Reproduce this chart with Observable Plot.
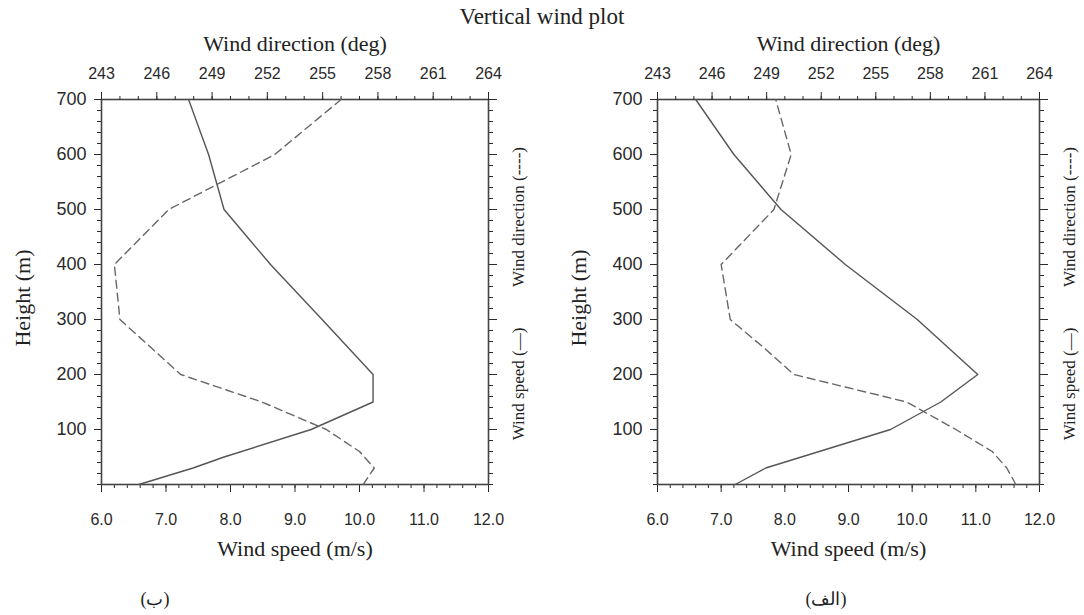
<!DOCTYPE html>
<html>
<head>
<meta charset="utf-8">
<script src="https://cdn.jsdelivr.net/npm/d3@7"></script>
<script src="https://cdn.jsdelivr.net/npm/@observablehq/plot@0.6"></script>
<style>
  body { margin: 0; background: #fff; }
  #page { position: relative; width: 1084px; height: 615px; overflow: hidden; background: #fff; }
  .panel { position: absolute; top: 0; }
  .panel svg { position: absolute; left: 0; top: 0; }
  .title { position: absolute; left: 0; width: 1084px; top: 3px; text-align: center; line-height: 28px;
           font-family: "Liberation Serif", serif; font-size: 23px; color: #222; }
  .caption { position: absolute; top: 588px; width: 80px; text-align: center; line-height: 22px;
             font-family: "Liberation Serif", "DejaVu Serif", serif; font-size: 18px; color: #222; }
</style>
</head>
<body>
<div id="page">
  <div class="title">Vertical wind plot</div>
</div>
<script>
// Axis ticks
const heightTicks = [100, 200, 300, 400, 500, 600, 700];
const speedTicks = [6, 7, 8, 9, 10, 11, 12];
const directionTicks = [243, 246, 249, 252, 255, 258, 261, 264];

// Panel (ب): wind speed (m/s) and wind direction (deg) by height (m)
const leftSpeedHeights = [0, 30, 50, 100, 150, 200, 300, 400, 500, 600, 700];
const leftSpeed = [6.58, 7.42, 7.90, 9.25, 10.21, 10.21, 9.42, 8.62, 7.90, 7.66, 7.35];
const leftDirHeights = [0, 30, 60, 100, 150, 200, 300, 400, 500, 600, 700];
const leftDir = [257.2, 257.8, 257.0, 255.2, 251.7, 247.3, 244.0, 243.7, 246.65, 252.4, 256.0];

// Panel (الف)
const rightSpeedHeights = [0, 30, 100, 150, 200, 300, 400, 500, 600, 700];
const rightSpeed = [7.22, 7.70, 9.66, 10.45, 11.03, 10.08, 8.95, 7.94, 7.20, 6.60];
const rightDirHeights = [0, 30, 60, 100, 150, 200, 250, 300, 400, 500, 600, 700];
const rightDir = [262.7, 262.2, 261.4, 259.4, 256.7, 250.5, 248.8, 247.0, 246.5, 249.4, 250.35, 249.5];

const SANS = "Liberation Sans, Arial, sans-serif";
const NARROW = "Liberation Sans Narrow, Liberation Sans, sans-serif";
const SERIF = "'Liberation Serif', 'Times New Roman', serif";
const SVG_H = 560, M_TOP = 99, M_BOTTOM = 76, M_LEFT = 101;

function zip(hs, vs) { return hs.map((h, i) => ({h, v: vs[i]})); }

// Serif titles drawn as text marks
function label(text, opts) {
  return Plot.text([text], {textAnchor: "middle", lineAnchor: "middle", fill: "#222",
                            fontFamily: SERIF, fontSize: 22, ...opts});
}

// Make sure standalone text marks use the serif face
function serifLabels(svg) {
  d3.select(svg).selectAll('g[aria-label="text"] text').style("font-family", SERIF);
  return svg;
}

// Speed layer: frame, height axes, bottom speed axis and the solid profile
function speedLayer(width, frameW, heights, speed) {
  const minorH = d3.range(0, 701, 20);
  return serifLabels(Plot.plot({
    width, height: SVG_H,
    marginLeft: M_LEFT, marginRight: width - M_LEFT - frameW, marginTop: M_TOP, marginBottom: M_BOTTOM,
    x: {domain: [6, 12]},
    y: {domain: [0, 700]},
    style: {background: "transparent", color: "#2a2a2a", fontFamily: SANS, fontSize: "15px", overflow: "visible"},
    marks: [
      Plot.axisY(minorH, {anchor: "left", tickSize: 4, tickFormat: () => "", label: null}),
      Plot.axisY(heightTicks, {anchor: "left", tickSize: 7, tickPadding: 8, fontSize: 18, fontFamily: SANS, label: null}),
      Plot.axisY(minorH, {anchor: "right", tickSize: 4, tickFormat: () => "", label: null}),
      Plot.axisY(heightTicks, {anchor: "right", tickSize: 8, tickFormat: () => "", label: null}),
      Plot.axisX(d3.range(6, 12.001, 0.2), {anchor: "bottom", tickSize: 4, tickFormat: () => "", label: null}),
      Plot.axisX(speedTicks, {anchor: "bottom", tickSize: 8, tickPadding: 21, fontSize: 16, fontFamily: NARROW,
                              tickFormat: d => d.toFixed(1), label: null}),
      Plot.frame({stroke: "#444", strokeWidth: 1.6}),
      Plot.line(zip(heights, speed), {x: "v", y: "h", stroke: "#555", strokeWidth: 1.4}),
      label("Height (m)", {frameAnchor: "left", dx: -79, dy: 6, rotate: -90}),
      label("Wind speed (m/s)", {frameAnchor: "bottom", dy: 64}),
      label("Wind speed (\u2014)", {frameAnchor: "right", dx: 30, dy: 92, rotate: -90, fontSize: 17}),
      label("Wind direction (----)", {frameAnchor: "right", dx: 30, dy: -75, rotate: -90, fontSize: 17})
    ]
  }));
}

// Direction layer: top direction axis and the dashed profile, sharing the same frame
function directionLayer(width, frameW, heights, dir) {
  return serifLabels(Plot.plot({
    width, height: SVG_H,
    marginLeft: M_LEFT, marginRight: width - M_LEFT - frameW, marginTop: M_TOP, marginBottom: M_BOTTOM,
    x: {domain: [243, 264]},
    y: {domain: [0, 700], axis: null},
    style: {background: "transparent", color: "#2a2a2a", fontFamily: SANS, fontSize: "15px", overflow: "visible"},
    marks: [
      Plot.axisX(d3.range(243, 264.5, 1), {anchor: "top", tickSize: 4, tickFormat: () => "", label: null}),
      Plot.axisX(directionTicks, {anchor: "top", tickSize: 8, tickPadding: 13, fontSize: 16, fontFamily: SANS, label: null}),
      Plot.line(zip(heights, dir), {x: "v", y: "h", stroke: "#666", strokeWidth: 1.4, strokeDasharray: "8,5"}),
      label("Wind direction (deg)", {frameAnchor: "top", dy: -56})
    ]
  }));
}

function addPanel(left, width, frameW, sH, s, dH, d, caption, captionX) {
  const page = document.getElementById("page");
  const div = document.createElement("div");
  div.className = "panel";
  div.style.left = left + "px";
  div.style.width = width + "px";
  div.style.height = SVG_H + "px";
  div.appendChild(speedLayer(width, frameW, sH, s));
  div.appendChild(directionLayer(width, frameW, dH, d));
  page.appendChild(div);
  const cap = document.createElement("div");
  cap.className = "caption";
  cap.lang = "fa";
  cap.dir = "rtl";
  cap.textContent = caption;
  cap.style.left = (captionX - 40) + "px";
  page.appendChild(cap);
}

addPanel(0, 540, 387, leftSpeedHeights, leftSpeed, leftDirHeights, leftDir, "(ب)", 155);
addPanel(556, 528, 382, rightSpeedHeights, rightSpeed, rightDirHeights, rightDir, "(الف)", 826);
</script>
</body>
</html>
